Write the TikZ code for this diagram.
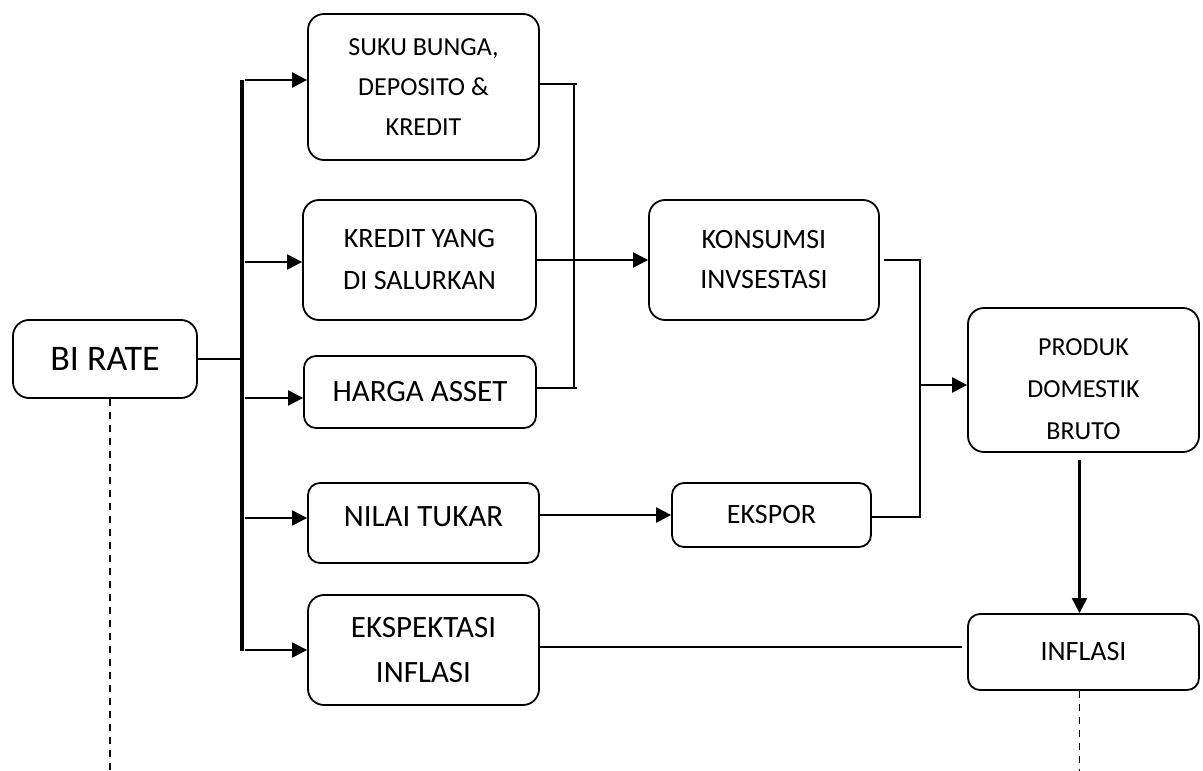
\documentclass[tikz,border=0pt]{standalone}
\usepackage{fontspec}
\setmainfont{Carlito}
\usetikzlibrary{arrows.meta,calc}
\begin{document}
\begin{tikzpicture}[x=1pt,y=-1pt,
  box/.style={draw, line width=1.8pt, rounded corners=16pt, align=center, inner sep=0pt},
  sbox/.style={box, rounded corners=12pt},
  conn/.style={line width=2.2pt},
  arr/.style={conn, -{Triangle[length=15pt,width=15pt]}},
  dsh/.style={line width=1.8pt, dash pattern=on 7pt off 6pt}]
\useasboundingbox (0,0) rectangle (1203,771);

% nodes
\node[box, minimum width=184pt, minimum height=78pt, font=\fontsize{36}{40}\selectfont] (bi) at (105,359) {BI RATE};
\node[box, minimum width=231pt, minimum height=146pt, font=\fontsize{26}{40}\selectfont] (suku) at (423.5,87) {SUKU BUNGA,\\DEPOSITO \&\\KREDIT};
\node[box, minimum width=233pt, minimum height=120pt, font=\fontsize{28}{42}\selectfont] (kredit) at (419.5,260) {KREDIT YANG\\DI SALURKAN};
\node[sbox, minimum width=232pt, minimum height=72pt, font=\fontsize{31}{40}\selectfont] (harga) at (420,392) {HARGA ASSET};
\node[sbox, minimum width=231pt, minimum height=80pt, font=\fontsize{31}{40}\selectfont] (nilai) at (423.5,523) {NILAI TUKAR\rule[-12pt]{0pt}{12pt}};
\node[box, minimum width=231pt, minimum height=110pt, font=\fontsize{31}{45}\selectfont] (eksp) at (423.5,650) {EKSPEKTASI\\INFLASI};
\node[box, minimum width=230pt, minimum height=120pt, font=\fontsize{28}{40}\selectfont] (kons) at (764,260) {KONSUMSI\\INVSESTASI};
\node[sbox, minimum width=199pt, minimum height=64pt, font=\fontsize{28}{40}\selectfont] (ekspor) at (771.5,515) {EKSPOR};
\node[box, minimum width=231pt, minimum height=144pt, font=\fontsize{26}{42}\selectfont] (pdb) at (1083.5,380) {\rule{0pt}{35pt}PRODUK\\DOMESTIK\\BRUTO};
\node[sbox, minimum width=231pt, minimum height=76pt, font=\fontsize{28}{40}\selectfont] (infl) at (1083.5,652) {INFLASI};

% bus from BI RATE
\coordinate (bt) at (242,80);
\coordinate (bb) at (242,651);
\draw[line width=3.2pt] (bt) -- (bb);
\draw[conn] (bi.east) -- (bi.east -| bt);
\coordinate (b1) at (245,80);
\coordinate (b2) at (245,262);
\coordinate (b3) at (245,398);
\coordinate (b4) at (245,518);
\coordinate (b5) at (245,650);
\draw[arr] (b1) -- (b1 -| suku.west);
\draw[arr] (b2) -- (b2 -| kredit.west);
\draw[arr] (b3) -- (b3 -| harga.west);
\draw[arr] (b4) -- (b4 -| nilai.west);
\draw[arr] (b5) -- (b5 -| eksp.west);

% bracket to KONSUMSI
\coordinate (k1) at (574,84);
\coordinate (k2) at (574,388);
\draw[conn] (suku.east |- k1) -- ([xshift=3pt]k1);
\draw[conn] (harga.east |- k2) -- ([xshift=3pt]k2);
\draw[conn] (k1) -- (k2);
\draw[arr] (kredit.east) -- (kons.west);

% KONSUMSI + EKSPOR to PDB
\coordinate (j2) at (920,517);
\coordinate (j3) at (920,385);
\draw[conn] ([xshift=4pt]kons.east) -| (j2) -- (ekspor.east |- j2);
\draw[arr] (j3) -- (j3 -| pdb.west);

% NILAI TUKAR to EKSPOR
\draw[arr] (ekspor.west -| nilai.east) -- (ekspor.west);

% PDB to INFLASI
\draw[arr] ([xshift=-4pt,yshift=-7pt]pdb.south) -- ([xshift=-4pt]infl.north);

% EKSPEKTASI to INFLASI
\draw[conn] ([yshift=3pt]eksp.east) -- ([xshift=-5pt,yshift=3pt]eksp.east -| infl.west);

% dashed lines
\coordinate (bot) at (0,771);
\draw[dsh] ([xshift=5pt]bi.south) -- ([xshift=5pt]bi.south |- bot);
\draw[dsh] ([xshift=-4pt]infl.south) -- ([xshift=-4pt]infl.south |- bot);
\end{tikzpicture}
\end{document}
